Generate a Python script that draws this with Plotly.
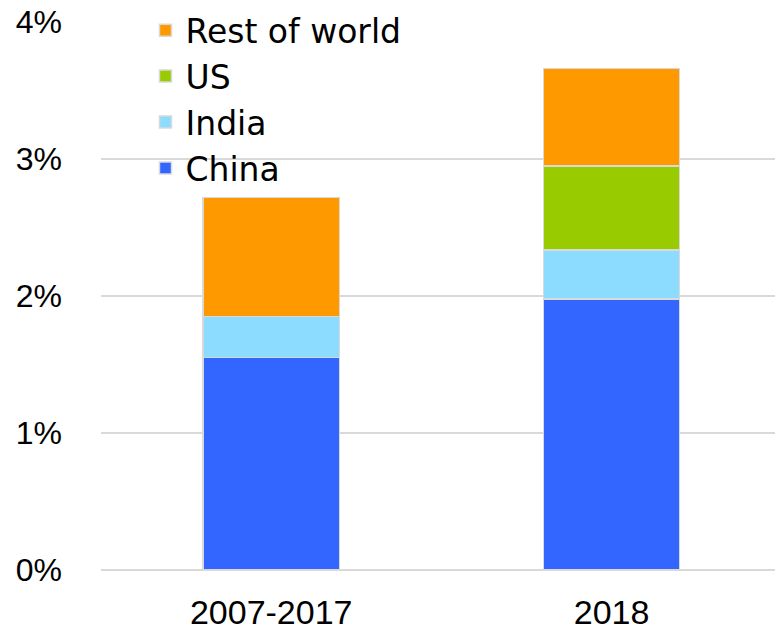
import plotly.graph_objects as go

categories = ["2007-2017", "2018"]
china = [1.55, 1.98]
india = [0.30, 0.355]
us = [0.0, 0.615]
rest_of_world = [0.87, 0.71]
y_ticks = [0, 1, 2, 3, 4]
y_tick_labels = ["0%", "1%", "2%", "3%", "4%"]

series = [
    ("China", china, "#3366FF"),
    ("India", india, "#8CDCFF"),
    ("US", us, "#99CC00"),
    ("Rest of world", rest_of_world, "#FF9900"),
]

fig = go.Figure()
for name, vals, col in series:
    fig.add_trace(go.Bar(
        x=categories, y=vals, name=name,
        marker=dict(color=col, line=dict(color="#D9D9D9", width=1.5)),
        width=0.4,
    ))

TICKFONT = "Liberation Sans, Arial, sans-serif"
LEGFONT = "DejaVu Sans, sans-serif"
fig.update_layout(
    width=775, height=630,
    barmode="stack",
    plot_bgcolor="white", paper_bgcolor="white",
    margin=dict(l=101, r=0, t=22, b=60, autoexpand=False),
    font=dict(family=TICKFONT, size=31, color="#000000"),
    showlegend=True,
    legend=dict(
        traceorder="reversed",
        x=0.066, y=1.036, xanchor="left", yanchor="top",
        bgcolor="rgba(0,0,0,0)",
        font=dict(size=33, family=LEGFONT, color="#000000"),
        itemwidth=30, tracegroupgap=0,
    ),
    xaxis=dict(
        range=[-0.5, 1.48],
        showgrid=False, showline=False, ticks="",
        tickfont=dict(size=34, family=TICKFONT),
        ticklabelstandoff=19,
    ),
    yaxis=dict(
        range=[0, 4.0001],
        tickvals=y_ticks, ticktext=y_tick_labels,
        showgrid=True, gridcolor="#D9D9D9", gridwidth=1.5,
        zeroline=True, zerolinecolor="#D9D9D9", zerolinewidth=1.5,
        showline=False, ticks="",
        tickfont=dict(size=32, family=TICKFONT),
        ticklabelstandoff=38,
        ticklabeloverflow="allow",
    ),
)

fig.write_html(
    "out.html",
    config={"displayModeBar": False},
    post_script="document.body.style.margin='0';document.body.style.overflow='hidden';",
)
